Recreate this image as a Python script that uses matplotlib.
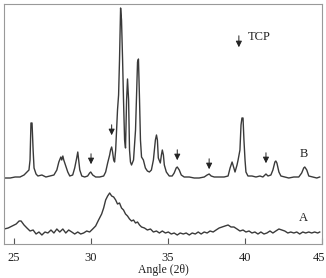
"""
XRD patterns of sample A and B, TCP reflections marked with arrows.
"""

import numpy as np
import matplotlib.pyplot as plt
import matplotlib.transforms as mtransforms

# pattern B (intensity, arbitrary units, above its own baseline)
angle_b = [24.36, 24.75, 25.07, 25.39, 25.65, 25.84, 25.97, 26.04, 26.10, 26.17,
           26.24, 26.30, 26.43, 26.55, 26.81, 27.07, 27.33, 27.59, 27.78, 27.91,
           28.04, 28.10, 28.17, 28.23, 28.36, 28.49, 28.62, 28.81, 28.94, 29.07,
           29.14, 29.20, 29.27, 29.40, 29.59, 29.78, 29.91, 29.98, 30.11, 30.30,
           30.56, 30.82, 30.95, 31.08, 31.21, 31.27, 31.34, 31.40, 31.47, 31.53,
           31.60, 31.66, 31.72, 31.79, 31.85, 31.92, 31.98, 32.05, 32.11, 32.18,
           32.24, 32.31, 32.37, 32.44, 32.50, 32.56, 32.63, 32.76, 32.89, 32.95,
           33.02, 33.08, 33.15, 33.21, 33.28, 33.40, 33.53, 33.66, 33.79, 33.92,
           34.05, 34.18, 34.25, 34.31, 34.37, 34.50, 34.57, 34.63, 34.70, 34.76,
           34.89, 35.08, 35.27, 35.40, 35.53, 35.60, 35.73, 35.86, 36.05, 36.38,
           36.70, 37.02, 37.35, 37.54, 37.67, 37.80, 38.00, 38.32, 38.64, 38.90,
           39.03, 39.16, 39.22, 39.35, 39.48, 39.55, 39.67, 39.74, 39.80, 39.87,
           39.93, 40.00, 40.06, 40.19, 40.45, 40.71, 40.97, 41.16, 41.36, 41.49,
           41.68, 41.81, 41.94, 42.00, 42.07, 42.20, 42.33, 42.58, 42.84, 43.17,
           43.49, 43.68, 43.81, 43.88, 44.01, 44.14, 44.40, 44.66, 44.85]
int_b = [6, 6, 7, 7, 9, 12, 14, 24, 61, 61,
         34, 16, 10, 8, 9, 7, 8, 9, 14, 22,
         27, 24, 28, 24, 18, 12, 8, 9, 16, 26,
         32, 24, 14, 8, 7, 8, 11, 12, 9, 7,
         7, 8, 12, 21, 29, 34, 37, 32, 24, 22,
         34, 54, 74, 89, 124, 176, 164, 124, 84, 44,
         36, 84, 105, 84, 34, 22, 19, 24, 54, 84,
         122, 125, 84, 44, 27, 24, 16, 13, 12, 14,
         24, 44, 49, 44, 26, 21, 29, 34, 29, 19,
         12, 8, 8, 11, 16, 17, 14, 9, 7, 7,
         6, 6, 7, 9, 10, 8, 7, 7, 7, 8,
         16, 22, 19, 12, 19, 24, 34, 59, 66, 66,
         44, 24, 12, 8, 8, 7, 8, 7, 10, 8,
         9, 14, 22, 23, 21, 12, 8, 7, 6, 7,
         7, 11, 16, 17, 14, 8, 7, 6, 7]

# pattern A
angle_a = [24.36, 24.62, 24.88, 25.14, 25.33, 25.46, 25.65, 25.84, 26.04, 26.24,
           26.43, 26.62, 26.81, 27.01, 27.20, 27.40, 27.59, 27.78, 27.97, 28.17,
           28.36, 28.55, 28.75, 28.94, 29.14, 29.33, 29.52, 29.72, 29.91, 30.11,
           30.30, 30.49, 30.69, 30.82, 30.95, 31.08, 31.21, 31.34, 31.47, 31.60,
           31.72, 31.85, 31.98, 32.11, 32.24, 32.37, 32.50, 32.63, 32.76, 32.89,
           33.02, 33.15, 33.28, 33.47, 33.66, 33.86, 34.05, 34.25, 34.44, 34.63,
           34.83, 35.02, 35.21, 35.40, 35.60, 35.79, 35.99, 36.18, 36.38, 36.57,
           36.77, 36.96, 37.15, 37.35, 37.54, 37.73, 37.93, 38.12, 38.32, 38.51,
           38.70, 38.90, 39.09, 39.28, 39.48, 39.67, 39.87, 40.06, 40.26, 40.45,
           40.64, 40.84, 41.03, 41.23, 41.42, 41.62, 41.81, 42.00, 42.20, 42.39,
           42.58, 42.78, 42.97, 43.17, 43.36, 43.55, 43.75, 43.94, 44.14, 44.33,
           44.52, 44.72, 44.85]
int_a = [15, 16, 18, 20, 23, 23, 19, 16, 13, 14,
         10, 12, 9, 12, 11, 14, 11, 15, 12, 15,
         11, 14, 12, 10, 12, 10, 11, 13, 12, 15,
         18, 24, 30, 36, 44, 48, 51, 48, 47, 44,
         40, 41, 36, 34, 30, 28, 25, 23, 24, 21,
         22, 19, 17, 16, 14, 15, 12, 13, 11, 13,
         11, 12, 10, 11, 9, 11, 10, 11, 9, 11,
         10, 12, 10, 12, 11, 13, 12, 14, 16, 17,
         18, 19, 17, 17, 15, 13, 14, 12, 13, 11,
         12, 10, 12, 10, 11, 13, 11, 13, 15, 14,
         13, 11, 12, 11, 12, 10, 12, 11, 12, 11,
         12, 11, 12]

# TCP reflections in pattern B (angle, arrow tip height in B units)
tcp_angles = [30.0, 31.34, 35.6, 37.67, 41.36]
tcp_tips = [17, 46, 21, 12, 18]

offset_b = 60
line_col = '#3a3a3a'
text_col = '#222222'

plt.rcParams['font.family'] = ['Liberation Serif', 'DejaVu Serif']

fig = plt.figure(figsize=(3.26, 2.78), dpi=100)
ax = fig.add_axes([0.0123, 0.1223, 0.9755, 0.8633])

ax.plot(angle_a, int_a, color=line_col, linewidth=1.0)
ax.plot(angle_b, np.asarray(int_b) + offset_b, color=line_col, linewidth=1.0)

arrow = dict(arrowstyle='-|>', color=text_col, lw=0.7, mutation_scale=9)
for ang, tip in zip(tcp_angles, tcp_tips):
    ax.annotate('', xy=(ang, tip + offset_b), xytext=(0, 16),
                textcoords='offset pixels', arrowprops=arrow)

# key
ax.annotate('', xy=(39.6, 194), xytext=(0, 17),
            textcoords='offset pixels', arrowprops=arrow)
ax.text(40.2, 207, 'TCP', fontsize=9, color=text_col, va='center', ha='left')

ax.text(43.8, 90, 'B', fontsize=9, color=text_col, va='center', ha='center')
ax.text(43.8, 26, 'A', fontsize=9, color=text_col, va='center', ha='center')

ax.set_xlim(24.35, 45.0)
ax.set_ylim(0, 240)
ax.set_xticks([25, 30, 35, 40, 45])
ax.set_yticks([])
ax.tick_params(axis='x', direction='in', length=4, width=0.8, color='#555555',
               labelsize=9, pad=6, labelcolor=text_col)
# last label sits on the frame edge, nudge it in a little
last = ax.get_xticklabels()[-1]
last.set_transform(last.get_transform() +
                   mtransforms.ScaledTranslation(-3 / 100, 0, fig.dpi_scale_trans))
for s in ax.spines.values():
    s.set_color('#999999')
    s.set_linewidth(0.8)
ax.set_xlabel('Angle (2θ)', fontsize=8.5, color=text_col, labelpad=0)

fig.savefig('out.png', dpi=100)
